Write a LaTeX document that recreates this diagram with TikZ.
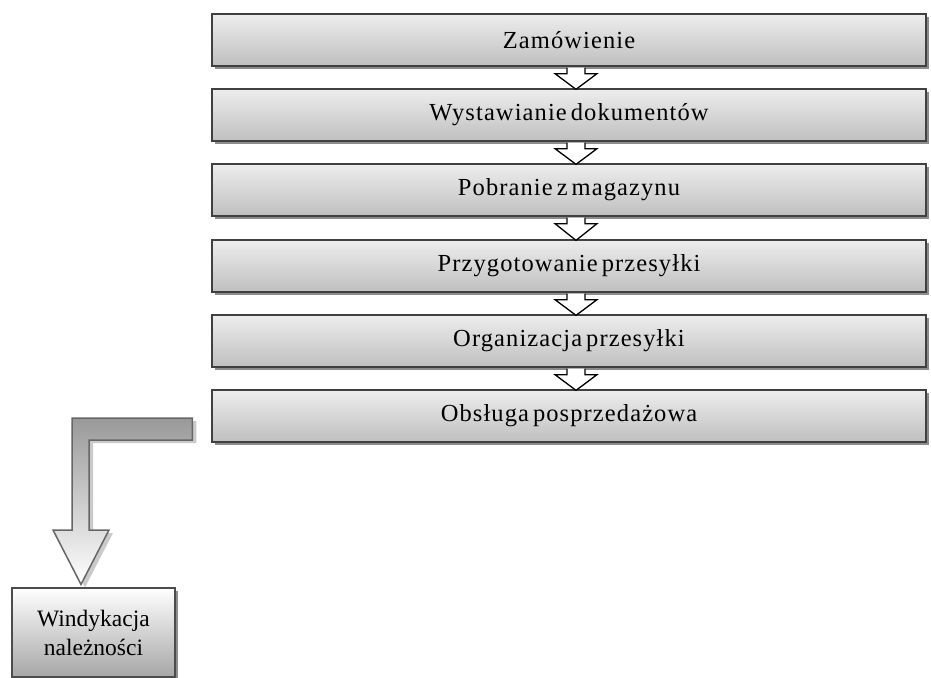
\documentclass[tikz,border=0pt]{standalone}
\usepackage{fontspec}
\setmainfont{Liberation Serif}
\newfontfamily\boxfont{Liberation Serif}[LetterSpace=4.5, WordSpace=0.55]
\usetikzlibrary{shadows,calc}
\tikzset{
  stepbox/.style={draw=black!75, line width=1.3pt, top color=black!7, bottom color=black!25,
    minimum width=714pt, minimum height=52pt, inner sep=0pt,
    font=\boxfont\fontsize{24.5}{28}\selectfont,
    drop shadow={shadow xshift=3pt, shadow yshift=-3pt, opacity=0.45, fill=black}},
  smallarrow/.style={draw=black, line width=1.3pt, fill=white, line join=miter},
  bigarrow/.style={draw=black!60, line width=1.5pt, top color=black!40, bottom color=white,
    drop shadow={shadow xshift=4pt, shadow yshift=-3pt, opacity=0.35, fill=black!60}},
  endbox/.style={draw=black!70, line width=1.2pt, top color=white, bottom color=black!35,
    minimum width=163pt, minimum height=89pt, inner sep=0pt, align=center,
    font=\fontsize{23.5}{29}\selectfont,
    drop shadow={shadow xshift=3pt, shadow yshift=-3pt, opacity=0.45, fill=black}}
}
\newcommand\stepconnect[2]{%
  \path[smallarrow] ($(#1.south -| ax)+(-9,1)$) -- ++(0,6) -- ++(-12,0)
    -- ($(#2.north -| ax)+(0,1)$) -- ($(#1.south -| ax)+(21,7)$) -- ++(-12,0) -- ++(0,-6);}
\begin{document}
\begin{tikzpicture}[x=1pt,y=-1pt]
\useasboundingbox (0,0) rectangle (931,677);
\coordinate (ax) at (576,0);
\node[stepbox] (b1) at (569,40) {Zamówienie};
\node[stepbox] (b2) at (569,115) {Wystawianie dokumentów};
\node[stepbox] (b3) at (569,190) {Pobranie z magazynu};
\node[stepbox] (b4) at (569,266) {Przygotowanie przesyłki};
\node[stepbox] (b5) at (569,341) {Organizacja przesyłki};
\node[stepbox] (b6) at (569,416) {Obsługa posprzedażowa};
\node[endbox] (w) at (93.5,632.5) {Windykacja\\należności};
\stepconnect{b1}{b2}
\stepconnect{b2}{b3}
\stepconnect{b3}{b4}
\stepconnect{b4}{b5}
\stepconnect{b5}{b6}
\path[bigarrow] ($(b6.west)+(-19,2)$) -- (72,418) -- (72,530) -- (53,530)
  -- ($(w.north)+(-12.5,-3)$) -- (109,530) -- (89,530) -- (89,440)
  -- ($(b6.west)+(-19,24)$) -- cycle;
\end{tikzpicture}
\end{document}
